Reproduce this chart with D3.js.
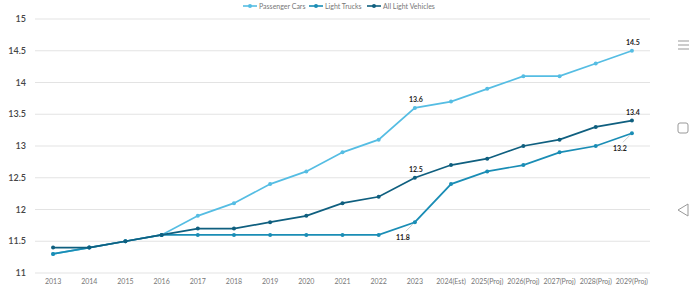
<!DOCTYPE html>
<html><head><meta charset="utf-8">
<script src="https://cdn.jsdelivr.net/npm/d3@7"></script>
<style>body{margin:0;background:#fff}svg{display:block;font-family:Lato,"Open Sans",sans-serif}</style>
</head><body><svg id="c" width="690" height="292"></svg>
<script>
const years = ["2013","2014","2015","2016","2017","2018","2019","2020","2021","2022","2023","2024(Est)","2025(Proj)","2026(Proj)","2027(Proj)","2028(Proj)","2029(Proj)"];
const passengerCars = [11.3,11.4,11.5,11.6,11.9,12.1,12.4,12.6,12.9,13.1,13.6,13.7,13.9,14.1,14.1,14.3,14.5];
const lightTrucks = [11.3,11.4,11.5,11.6,11.6,11.6,11.6,11.6,11.6,11.6,11.8,12.4,12.6,12.7,12.9,13.0,13.2];
const allLight = [11.4,11.4,11.5,11.6,11.7,11.7,11.8,11.9,12.1,12.2,12.5,12.7,12.8,13.0,13.1,13.3,13.4];
const seriesNames = ["Passenger Cars","Light Trucks","All Light Vehicles"];
const yTicks = [11,11.5,12,12.5,13,13.5,14,14.5,15];
const colors = ["#55bde3","#1a8db5","#0f5f7f"];
// labelled points: [series index, category index, placement]
const labels = [[0,10,"above"],[2,10,"above"],[1,10,"below"],[0,16,"above"],[2,16,"above"],[1,16,"below"]];

const series = [passengerCars, lightTrucks, allLight];

const svg = d3.select("#c");
const x = d3.scaleBand().domain(years).range([35,650]);
const y = d3.scaleLinear().domain([11,15]).range([273,19]);
const cx = d => x(d) + x.bandwidth()/2;

// grid
svg.append("g").selectAll("line").data(yTicks).join("line")
  .attr("x1",35).attr("x2",650).attr("y1",d=>y(d)).attr("y2",d=>y(d))
  .attr("stroke","#e3e3e3").attr("stroke-width",1);
// y labels
svg.append("g").selectAll("text").data(yTicks).join("text")
  .attr("x",26).attr("y",d=>y(d)+3).attr("text-anchor","end")
  .attr("font-size",9).attr("font-weight",600).attr("fill","#444").text(d=>d);
// x labels
svg.append("g").selectAll("text").data(years).join("text")
  .attr("x",d=>cx(d)).attr("y",284).attr("text-anchor","middle")
  .attr("font-size",7).attr("fill","#777").text(d=>d);

const line = d3.line().x((d,i)=>cx(years[i])).y(d=>y(d));
series.forEach((s,k)=>{
  const g = svg.append("g");
  g.append("path").attr("d",line(s)).attr("fill","none").attr("stroke",colors[k]).attr("stroke-width",1.7);
  g.selectAll("circle").data(s).join("circle").attr("cx",(d,i)=>cx(years[i])).attr("cy",d=>y(d)).attr("r",2).attr("fill",colors[k]);
});

// data labels
labels.forEach(([k,i,pos])=>{
  const px = cx(years[i]), py = y(series[k][i]);
  if(pos==="above"){
    svg.append("text").attr("x",px+1).attr("y",py-6).attr("text-anchor","middle")
      .attr("font-size",7).attr("font-weight",700).attr("fill","#222").text(series[k][i].toFixed(1));
  } else {
    svg.append("line").attr("x1",px-2).attr("y1",py+2).attr("x2",px-9).attr("y2",py+9).attr("stroke","#aaa").attr("stroke-width",0.6);
    svg.append("text").attr("x",px-12).attr("y",py+18).attr("text-anchor","middle")
      .attr("font-size",7).attr("font-weight",700).attr("fill","#222").text(series[k][i].toFixed(1));
  }
});

// legend
const legX = [243,309,367];
seriesNames.forEach((n,k)=>{
  const g = svg.append("g").attr("transform",`translate(${legX[k]},6)`);
  g.append("line").attr("x1",0).attr("x2",14).attr("stroke",colors[k]).attr("stroke-width",1.6);
  g.append("circle").attr("cx",7).attr("r",2).attr("fill",colors[k]);
  g.append("text").attr("x",16).attr("y",2.5).attr("font-size",7).attr("fill","#777").text(n);
});

// device nav icons
const nav = svg.append("g").attr("stroke","#999").attr("fill","none").attr("stroke-width",1);
[41,45,49].forEach(v=>nav.append("line").attr("x1",678).attr("x2",689).attr("y1",v).attr("y2",v));
nav.append("rect").attr("x",678).attr("y",123).attr("width",10).attr("height",10).attr("rx",2);
nav.append("path").attr("d","M688,204 L678,210 L688,216 Z");
</script></body></html>
